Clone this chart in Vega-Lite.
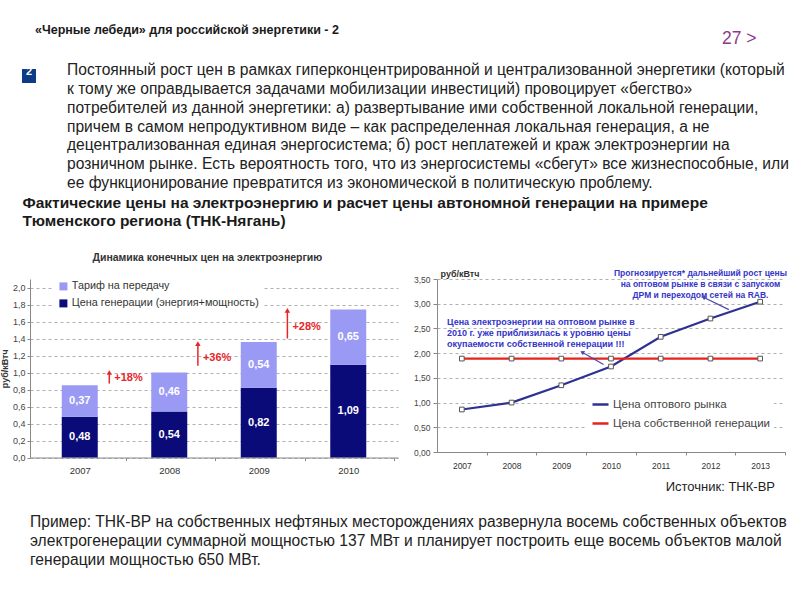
{
  "$schema": "https://vega.github.io/schema/vega-lite/v6.json",
  "background": "white",
  "padding": {"left": 0, "top": 14, "right": 0, "bottom": 0},
  "spacing": 3,
  "config": {
    "font": "Liberation Sans",
    "view": {"stroke": null},
    "locale": {"number": {"decimal": ",", "thousands": " ", "grouping": [3], "currency": ["", ""]}},
    "concat": {"spacing": 0},
    "axis": {"labelFont": "Liberation Sans", "titleFont": "Liberation Sans", "domainColor": "#888888", "tickColor": "#888888", "labelColor": "#444444", "labelOverlap": false},
    "legend": {"labelFont": "Liberation Sans"},
    "title": {"font": "Liberation Sans", "color": "#1a1a1a"}
  },
  "vconcat": [
    {
      "hconcat": [
        {
          "width": 660, "height": 42,
          "title": {"text": "«Черные лебеди» для российской энергетики - 2", "anchor": "start", "orient": "bottom", "fontSize": 12.5, "fontWeight": "bold", "dx": 5, "offset": -32},
          "data": {"values": [{}]}, "mark": {"type": "point", "opacity": 0}, "encoding": {}
        },
        {
          "width": 120, "height": 42,
          "title": {"text": "27 >", "anchor": "start", "orient": "bottom", "fontSize": 17.5, "fontWeight": "normal", "color": "#8B3A8B", "dx": 32, "offset": -26},
          "data": {"values": [{}]}, "mark": {"type": "point", "opacity": 0}, "encoding": {}
        }
      ]
    },
    {
      "hconcat": [
        {
          "width": 37, "height": 20,
          "data": {"values": [{"n": "2"}]},
          "layer": [
            {"mark": {"type": "square", "size": 196, "color": "#0B3C86", "opacity": 1, "xOffset": -19.5, "yOffset": 4}, "encoding": {}},
            {"mark": {"type": "text", "color": "white", "fontWeight": "bold", "fontSize": 11, "xOffset": -19.5, "yOffset": 4, "dy": -4}, "encoding": {"text": {"field": "n"}}}
          ]
        },
        {
          "width": 735, "height": 1,
          "title": {"text": [
            "Постоянный рост цен в рамках гиперконцентрированной и централизованной энергетики (который",
            "к тому же оправдывается задачами мобилизации инвестиций) провоцирует «бегство»",
            "потребителей из данной энергетики: а) развертывание ими собственной локальной генерации,",
            "причем в самом непродуктивном виде – как распределенная локальная генерация, а не",
            "децентрализованная единая энергосистема; б) рост неплатежей и краж электроэнергии на",
            "розничном рынке. Есть вероятность того, что из энергосистемы «сбегут» все жизнеспособные, или",
            "ее функционирование превратится из экономической в политическую проблему."
          ], "anchor": "start", "orient": "bottom", "fontSize": 15.6, "fontWeight": "normal", "lineHeight": 18.8, "color": "#222222", "offset": -2},
          "data": {"values": [{}]}, "mark": {"type": "point", "opacity": 0}, "encoding": {}
        }
      ]
    },
    {
      "title": {"text": [
        "Фактические цены на электроэнергию и расчет цены автономной генерации на примере",
        "Тюменского региона (ТНК-Нягань)"
      ], "anchor": "start", "fontSize": 15.5, "fontWeight": "bold", "lineHeight": 18.5, "dx": 22, "offset": 23},
      "spacing": 15,
      "hconcat": [
        {
          "width": 368, "height": 178.5,
          "title": {"text": "Динамика конечных цен на электроэнергию", "anchor": "start", "fontSize": 10.5, "fontWeight": "bold", "color": "#333333", "dx": 92, "offset": 14},
          "layer": [
            {
              "data": {"values": [
                {"year": 2007, "series": "Цена генерации (энергия+мощность)", "value": 0.48},
                {"year": 2007, "series": "Тариф на передачу", "value": 0.37},
                {"year": 2008, "series": "Цена генерации (энергия+мощность)", "value": 0.54},
                {"year": 2008, "series": "Тариф на передачу", "value": 0.46},
                {"year": 2009, "series": "Цена генерации (энергия+мощность)", "value": 0.82},
                {"year": 2009, "series": "Тариф на передачу", "value": 0.54},
                {"year": 2010, "series": "Цена генерации (энергия+мощность)", "value": 1.09},
                {"year": 2010, "series": "Тариф на передачу", "value": 0.65}
              ]},
              "layer": [
                {
                  "mark": {"type": "bar", "size": 36},
                  "encoding": {
                    "x": {"field": "year", "type": "quantitative", "scale": {"domain": [2006.5, 2010.5], "nice": false, "zero": false},
                      "axis": {"values": [2007, 2008, 2009, 2010], "tickCount": 20, "format": "d", "title": null, "grid": false, "labelFontSize": 9.5, "labelColor": "#333333", "tickSize": 3, "tickOffset": 46, "labelOffset": -46, "labelPadding": 5}},
                    "y": {"field": "value", "type": "quantitative", "stack": "zero", "scale": {"domain": [0, 2.1], "nice": false},
                      "axis": {"values": [0, 0.2, 0.4, 0.6, 0.8, 1.0, 1.2, 1.4, 1.6, 1.8, 2.0], "tickCount": 30, "format": ".1f", "title": "руб/кВтч", "titleFontSize": 9, "titleFontWeight": "bold", "titleColor": "#333333", "titlePadding": 3, "grid": true, "gridDash": [3, 3], "gridColor": "#b0b0b0", "labelFontSize": 9, "tickSize": 3, "labelPadding": 2}},
                    "color": {"field": "series", "type": "nominal",
                      "scale": {"domain": ["Тариф на передачу", "Цена генерации (энергия+мощность)"], "range": ["#9A9AF4", "#0A0A78"]},
                      "legend": {"orient": "none", "legendX": 24, "legendY": -2, "title": null, "symbolType": "square", "symbolSize": 64, "symbolStrokeWidth": 0, "labelFontSize": 10.8, "labelLimit": 300, "labelColor": "#333333", "fillColor": "white", "padding": 4, "rowPadding": 5, "labelOffset": 3}},
                    "order": {"field": "series", "sort": "descending"}
                  }
                },
                {
                  "mark": {"type": "text", "color": "white", "fontWeight": "bold", "fontSize": 11},
                  "encoding": {
                    "x": {"field": "year", "type": "quantitative"},
                    "y": {"field": "value", "type": "quantitative", "stack": "zero", "bandPosition": 0.5},
                    "text": {"field": "value", "type": "quantitative", "format": ".2f"},
                    "order": {"field": "series", "sort": "descending"}
                  }
                }
              ]
            },
            {
              "data": {"values": [
                {"year": 2007.33, "lo": 0.87, "hi": 1.0, "label": "+18%", "ly": 0.93},
                {"year": 2008.32, "lo": 1.08, "hi": 1.34, "label": "+36%", "ly": 1.17},
                {"year": 2009.32, "lo": 1.40, "hi": 1.73, "label": "+28%", "ly": 1.53}
              ]},
              "layer": [
                {"mark": {"type": "rule", "color": "#E8262A", "strokeWidth": 1.5},
                  "encoding": {"x": {"field": "year", "type": "quantitative"}, "y": {"field": "lo", "type": "quantitative"}, "y2": {"field": "hi"}}},
                {"mark": {"type": "point", "shape": "triangle-up", "filled": true, "color": "#E8262A", "size": 30, "opacity": 1},
                  "encoding": {"x": {"field": "year", "type": "quantitative"}, "y": {"field": "hi", "type": "quantitative"}}},
                {"mark": {"type": "text", "color": "#E8262A", "fontWeight": "bold", "fontSize": 11, "align": "left", "dx": 5},
                  "encoding": {"x": {"field": "year", "type": "quantitative"}, "y": {"field": "ly", "type": "quantitative"}, "text": {"field": "label"}}}
              ]
            }
          ]
        },
        {
          "width": 348, "height": 173,
          "title": {"text": "Источник: ТНК-ВР", "orient": "bottom", "anchor": "end", "fontSize": 13, "fontWeight": "normal", "color": "#222222", "offset": 11, "dx": -12},
          "layer": [
            {
              "data": {"values": [
                {"year": 2007, "series": "Цена оптового рынка", "value": 0.86},
                {"year": 2008, "series": "Цена оптового рынка", "value": 1.0},
                {"year": 2009, "series": "Цена оптового рынка", "value": 1.35},
                {"year": 2010, "series": "Цена оптового рынка", "value": 1.73},
                {"year": 2011, "series": "Цена оптового рынка", "value": 2.33},
                {"year": 2012, "series": "Цена оптового рынка", "value": 2.70},
                {"year": 2013, "series": "Цена оптового рынка", "value": 3.04},
                {"year": 2007, "series": "Цена собственной генерации", "value": 1.89},
                {"year": 2008, "series": "Цена собственной генерации", "value": 1.89},
                {"year": 2009, "series": "Цена собственной генерации", "value": 1.89},
                {"year": 2010, "series": "Цена собственной генерации", "value": 1.89},
                {"year": 2011, "series": "Цена собственной генерации", "value": 1.89},
                {"year": 2012, "series": "Цена собственной генерации", "value": 1.89},
                {"year": 2013, "series": "Цена собственной генерации", "value": 1.89}
              ]},
              "layer": [
                {
                  "mark": {"type": "line", "strokeWidth": 2.2},
                  "encoding": {
                    "x": {"field": "year", "type": "quantitative", "scale": {"domain": [2006.5, 2013.5], "nice": false, "zero": false},
                      "axis": {"values": [2007, 2008, 2009, 2010, 2011, 2012, 2013], "tickCount": 20, "format": "d", "title": null, "grid": false, "labelFontSize": 8.5, "labelColor": "#333333", "tickSize": 3, "tickOffset": 24.86, "labelOffset": -24.86, "labelPadding": 6}},
                    "y": {"field": "value", "type": "quantitative", "scale": {"domain": [0, 3.5], "nice": false},
                      "axis": {"values": [0, 0.5, 1.0, 1.5, 2.0, 2.5, 3.0, 3.5], "tickCount": 30, "format": ".2f", "title": "руб/кВтч", "titleAngle": 0, "titleAlign": "left", "titleBaseline": "bottom", "titleX": 3, "titleY": -1, "titleFontSize": 9, "titleFontWeight": "bold", "titleColor": "#333333", "grid": true, "gridDash": [3, 3], "gridColor": "#b0b0b0", "labelFontSize": 8.5, "tickSize": 4, "labelPadding": 3}},
                    "color": {"field": "series", "type": "nominal",
                      "scale": {"domain": ["Цена оптового рынка", "Цена собственной генерации"], "range": ["#2E3192", "#E5231B"]},
                      "legend": {"orient": "none", "legendX": 150, "legendY": 112, "title": null, "symbolType": "stroke", "symbolSize": 256, "symbolStrokeWidth": 2.5, "labelFontSize": 11.5, "labelLimit": 300, "labelColor": "#444444", "fillColor": "white", "padding": 4, "rowPadding": 4, "labelOffset": 3}}
                  }
                },
                {
                  "mark": {"type": "square", "size": 22, "fill": "white", "stroke": "#555555", "strokeWidth": 1, "opacity": 1},
                  "encoding": {
                    "x": {"field": "year", "type": "quantitative"},
                    "y": {"field": "value", "type": "quantitative"}
                  }
                }
              ]
            },
            {
              "data": {"values": [
                {"x": 2011.80, "y": 3.70, "note": "Прогнозируется* дальнейший рост цены\nна оптовом рынке в связи с запуском\nДРМ и переходом сетей на RAB."}
              ]},
              "mark": {"type": "text", "color": "#3535C8", "fontWeight": "bold", "fontSize": 8.5, "align": "center", "baseline": "top", "lineBreak": "\n", "lineHeight": 11},
              "encoding": {"x": {"field": "x", "type": "quantitative"}, "y": {"field": "y", "type": "quantitative"}, "text": {"field": "note"}}
            },
            {
              "data": {"values": [
                {"x": 2006.70, "y": 2.72, "note": "Цена электроэнергии на оптовом рынке в\n2010 г. уже приблизилась к уровню цены\nокупаемости собственной генерации !!!"}
              ]},
              "mark": {"type": "text", "color": "#3535C8", "fontWeight": "bold", "fontSize": 9, "align": "left", "baseline": "top", "lineBreak": "\n", "lineHeight": 11.3},
              "encoding": {"x": {"field": "x", "type": "quantitative"}, "y": {"field": "y", "type": "quantitative"}, "text": {"field": "note"}}
            },
            {
              "data": {"values": [
                {"x1": 2012.37, "y1": 2.88, "x2": 2011.86, "y2": 3.13},
                {"x1": 2009.85, "y1": 1.77, "x2": 2009.42, "y2": 2.02}
              ]},
              "layer": [
                {"mark": {"type": "rule", "color": "#4848B0", "strokeWidth": 1.2},
                  "encoding": {"x": {"field": "x1", "type": "quantitative"}, "x2": {"field": "x2"}, "y": {"field": "y1", "type": "quantitative"}, "y2": {"field": "y2"}}},
                {"mark": {"type": "point", "shape": "triangle-up", "filled": true, "color": "#4848B0", "size": 22, "angle": 298, "opacity": 1},
                  "encoding": {"x": {"field": "x2", "type": "quantitative"}, "y": {"field": "y2", "type": "quantitative"}}}
              ]
            }
          ]
        }
      ],
      "resolve": {"scale": {"color": "independent"}}
    },
    {
      "width": 780, "height": 1,
      "title": {"text": [
        "Пример: ТНК-ВР на собственных нефтяных месторождениях развернула восемь собственных объектов",
        "электрогенерации суммарной мощностью 137 МВт и планирует построить еще восемь объектов малой",
        "генерации мощностью 650 МВт."
      ], "anchor": "start", "orient": "bottom", "fontSize": 15.6, "fontWeight": "normal", "lineHeight": 18.8, "color": "#222222", "dx": 0, "offset": 12},
      "data": {"values": [{}]}, "mark": {"type": "point", "opacity": 0}, "encoding": {}
    }
  ]
}
